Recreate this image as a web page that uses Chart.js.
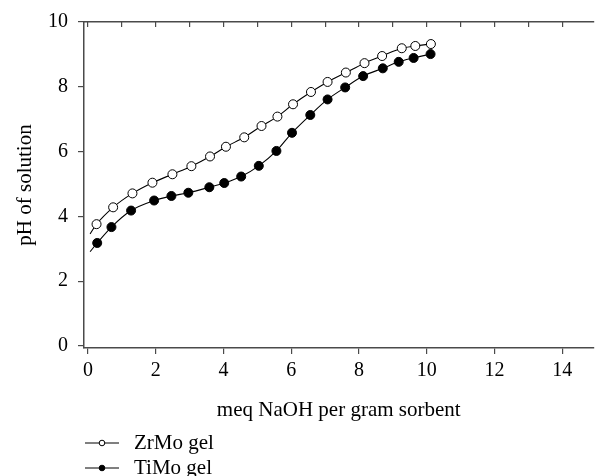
<!DOCTYPE html>
<html>
<head>
<meta charset="utf-8">
<script src="https://cdn.jsdelivr.net/npm/chart.js@4.4.0/dist/chart.umd.min.js"></script>
<style>
	html, body { margin: 0; padding: 0; background: #fff; }
	.phChart { width: 599px; height: 476px; }
</style>
</head>
<body>
<div class="phChart"><canvas id="ph-chart"></canvas></div>
<script>
// ZrMo gel (open circles)
const zrX = [0.25, 0.74, 1.31, 1.90, 2.49, 3.05, 3.60, 4.07, 4.61, 5.12, 5.59, 6.05, 6.58, 7.07, 7.61, 8.16, 8.68, 9.26, 9.66, 10.12];
const zrY = [3.76, 4.28, 4.71, 5.04, 5.30, 5.55, 5.85, 6.15, 6.44, 6.79, 7.08, 7.46, 7.84, 8.15, 8.44, 8.73, 8.95, 9.19, 9.26, 9.32];
// TiMo gel (filled circles)
const tiX = [0.27, 0.69, 1.27, 1.95, 2.46, 2.96, 3.58, 4.02, 4.52, 5.04, 5.56, 6.02, 6.56, 7.07, 7.59, 8.12, 8.70, 9.17, 9.61, 10.11];
const tiY = [3.18, 3.67, 4.18, 4.49, 4.63, 4.73, 4.90, 5.03, 5.23, 5.56, 6.02, 6.58, 7.13, 7.61, 7.98, 8.33, 8.57, 8.77, 8.89, 9.01];
// the fitted curves start a little left of the first measurement
const zrStart = [0.06, 3.46];
const tiStart = [0.06, 2.91];

const xTicks = [0, 2, 4, 6, 8, 10, 12, 14];
const xTopTicks = [0, 1, 2, 3, 4, 5, 6, 7, 8, 9, 10, 11, 12, 13, 14];
const yTicks = [0, 2, 4, 6, 8, 10];

const FONT = 'Liberation Serif';
const AXIS = '#4a4a4a';

const toPoints = (start, xs, ys) => [{ x: start[0], y: start[1] }].concat(xs.map((x, i) => ({ x, y: ys[i] })));

const series = (label, start, xs, ys, fill) => ({
	label,
	data: toPoints(start, xs, ys),
	borderColor: '#000',
	borderWidth: 1.1,
	pointBackgroundColor: fill,
	pointBorderColor: '#000',
	pointBorderWidth: 1,
	pointRadius: (c) => (c.dataIndex === 0 ? 0 : 4.5),
	cubicInterpolationMode: 'monotone',
	fill: false,
});

// legend under the axis title, line with a marker in the middle
const legendBelow = {
	id: 'legendBelow',
	afterDraw(chart) {
		const ctx = chart.ctx;
		const left = chart.chartArea.left + 1;
		const rows = [443, 468];
		chart.data.datasets.forEach((ds, i) => {
			const y = rows[i];
			ctx.save();
			ctx.strokeStyle = '#000';
			ctx.lineWidth = 1;
			ctx.beginPath();
			ctx.moveTo(left, y);
			ctx.lineTo(left + 34, y);
			ctx.stroke();
			ctx.beginPath();
			ctx.arc(left + 17, y, 2.8, 0, Math.PI * 2);
			ctx.fillStyle = ds.pointBackgroundColor;
			ctx.fill();
			ctx.stroke();
			ctx.fillStyle = '#000';
			ctx.font = '21px "' + FONT + '"';
			ctx.textBaseline = 'middle';
			ctx.fillText(ds.label, left + 49, y);
			ctx.restore();
		});
	},
};

const ctx = document.getElementById('ph-chart').getContext('2d');
new Chart(ctx, {
	type: 'line',
	data: {
		datasets: [
			series('ZrMo gel', zrStart, zrX, zrY, '#fff'),
			series('TiMo gel', tiStart, tiX, tiY, '#000'),
		],
	},
	options: {
		responsive: true,
		maintainAspectRatio: false,
		animation: false,
		layout: { padding: 0 },
		plugins: {
			legend: { display: false },
			tooltip: { enabled: false },
		},
		scales: {
			x: {
				type: 'linear',
				position: 'bottom',
				min: -0.12,
				max: 14.92,
				afterBuildTicks: (s) => { s.ticks = xTicks.map((v) => ({ value: v })); },
				afterFit: (s) => { s.height = 128; },
				grid: { drawOnChartArea: false, tickLength: 6, color: AXIS, lineWidth: 1.2 },
				border: { display: true, color: AXIS, width: 1.5 },
				ticks: { color: '#000', padding: 5, maxRotation: 0, font: { family: FONT, size: 20 } },
				title: {
					display: true,
					text: 'meq NaOH per gram sorbent',
					color: '#000',
					font: { family: FONT, size: 21 },
					padding: { top: 0, bottom: 53 },
				},
			},
			xTop: {
				type: 'linear',
				position: 'top',
				min: -0.12,
				max: 14.92,
				afterBuildTicks: (s) => { s.ticks = xTopTicks.map((v) => ({ value: v })); },
				afterFit: (s) => { s.height = 22; },
				grid: { drawOnChartArea: false, tickLength: -5, color: AXIS, lineWidth: 1.2 },
				border: { display: true, color: AXIS, width: 1.5 },
				ticks: { display: false },
			},
			y: {
				type: 'linear',
				position: 'left',
				min: -0.062,
				max: 10,
				afterBuildTicks: (s) => { s.ticks = yTicks.map((v) => ({ value: v })); },
				afterFit: (s) => { s.width = 84; },
				grid: { drawOnChartArea: false, tickLength: 6, color: AXIS, lineWidth: 1.2 },
				border: { display: true, color: AXIS, width: 1.5 },
				ticks: { color: '#000', padding: 10, font: { family: FONT, size: 20 } },
				title: {
					display: true,
					text: 'pH of solution',
					color: '#000',
					font: { family: FONT, size: 21 },
					padding: { top: 13, bottom: 0 },
				},
			},
		},
	},
	plugins: [legendBelow],
});
</script>
</body>
</html>
